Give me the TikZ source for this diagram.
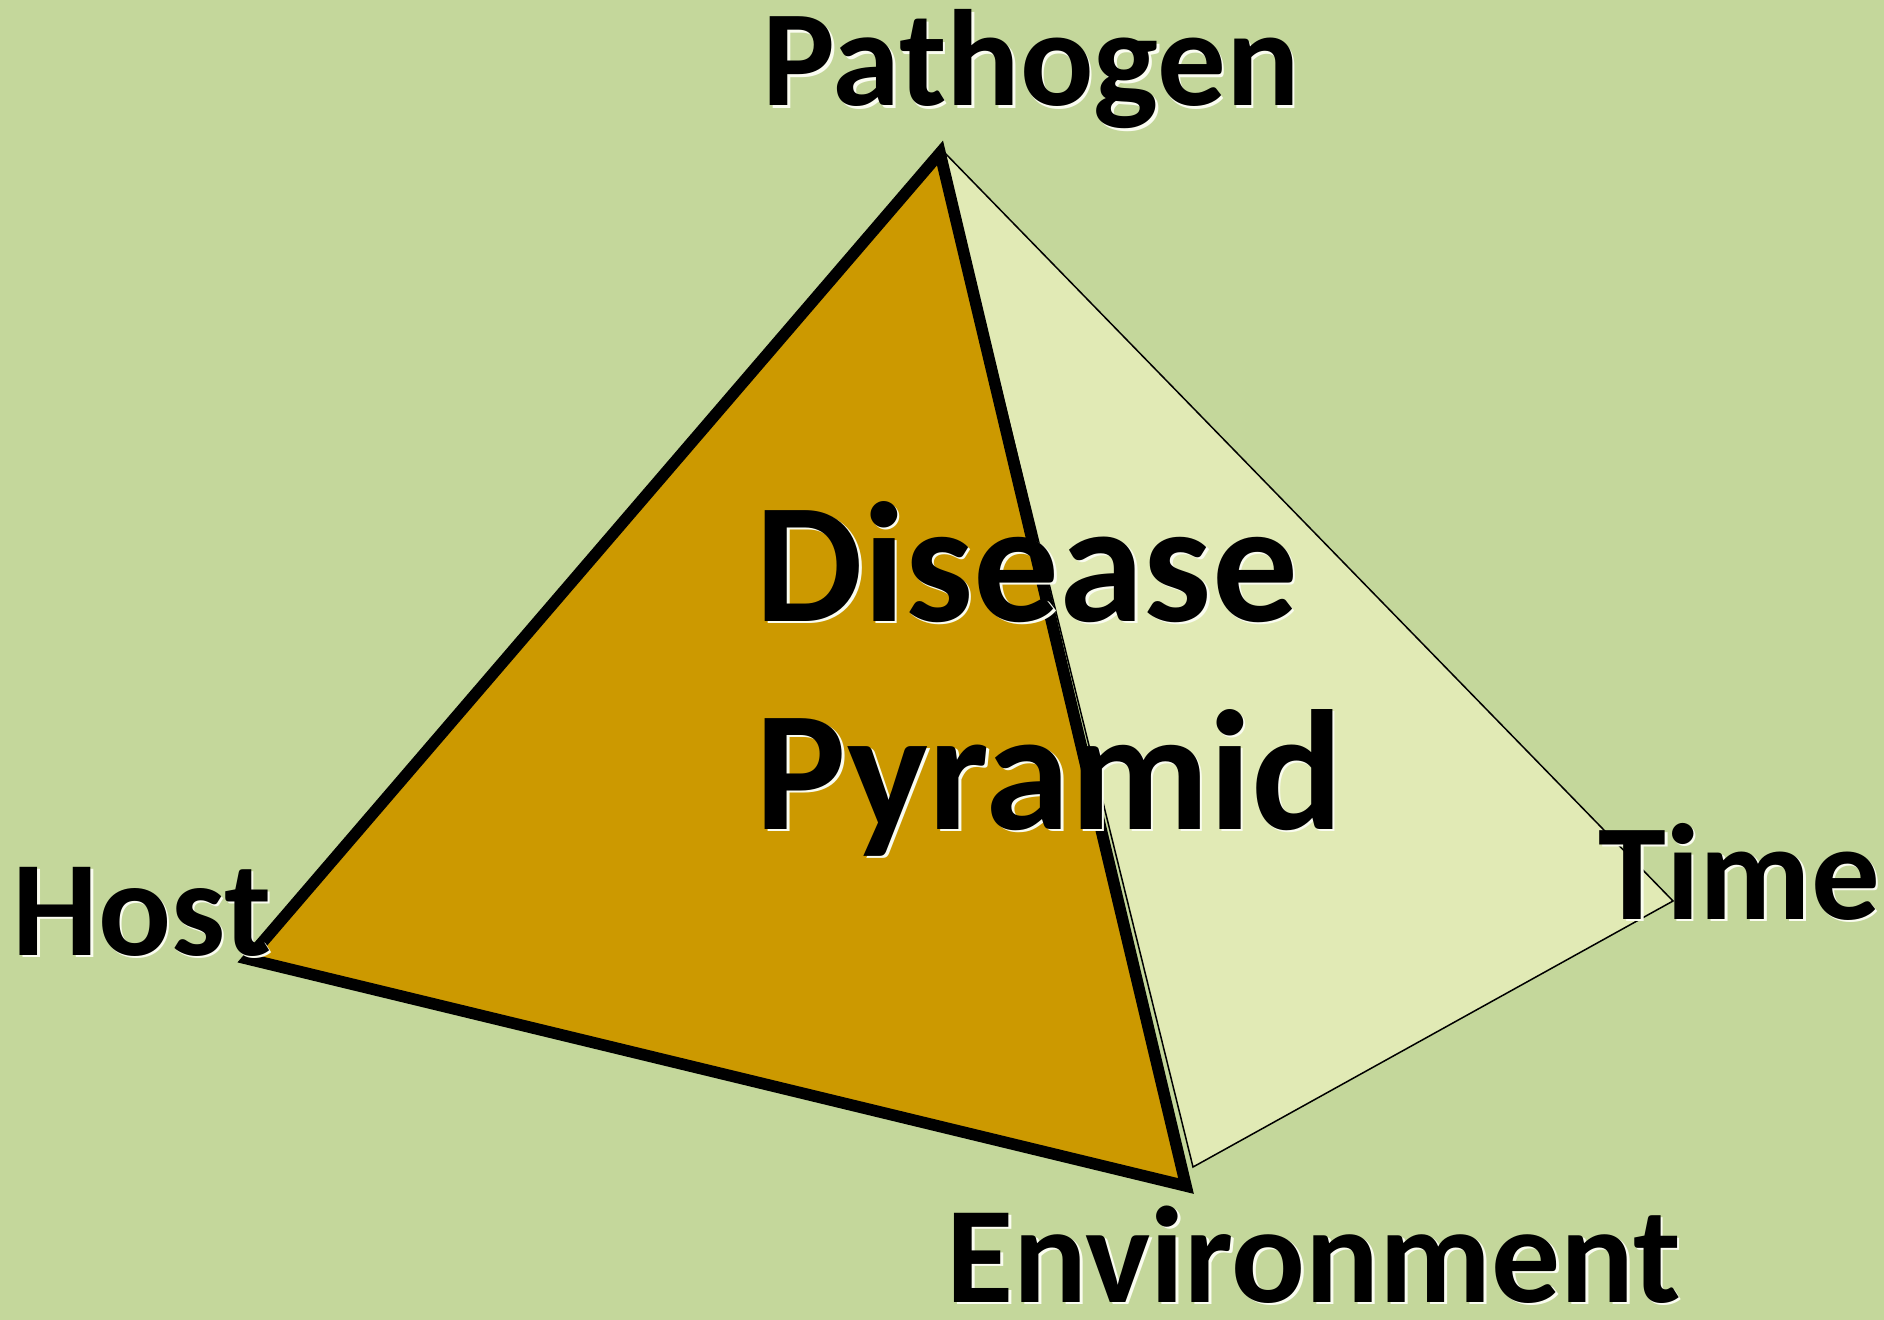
\documentclass[tikz,border=0pt]{standalone}
\usepackage{fontspec}
\setmainfont{Carlito}
\definecolor{bggreen}{HTML}{C4D79B}
\definecolor{frontface}{HTML}{CC9900}
\definecolor{backface}{HTML}{E1EAB5}
\definecolor{glowwhite}{HTML}{FAFCF0}
\newcommand{\glowtext}[1]{\rlap{\kern1.3pt\raisebox{-1.3pt}{\textcolor{glowwhite}{#1}}}#1}
\tikzset{
  lbl/.style={anchor=base west, inner sep=0pt, font=\bfseries, text=black},
  frontedge/.style={draw=black, line width=5.8pt, miter limit=10, line join=miter, fill=frontface},
  backedge/.style={draw=black, line width=0.75pt, line join=miter, fill=backface}
}
\begin{document}
\begin{tikzpicture}[x=0.5pt,y=-0.5pt]
\fill[bggreen] (0,0) rectangle (1884,1320);
\useasboundingbox (0,0) rectangle (1884,1320);
% vertices
\coordinate (apex) at (940,153);
\coordinate (backapex) at (942,150);
\coordinate (host) at (248,959);
\coordinate (env) at (1186,1186);
\coordinate (envback) at (1193,1167);
\coordinate (time) at (1673,901);
% back face
\draw[backedge] (backapex) -- (time) -- (envback) -- cycle;
% front face
\draw[frontedge] (apex) -- (host) -- (env) -- cycle;
% labels
\node[lbl] (pathogen) at (762,106) {\fontsize{68.5}{75}\selectfont\glowtext{Pathogen}};
\node[lbl] (host) at (12,955) {\fontsize{68}{75}\selectfont\glowtext{Host}};
\node[lbl] (timelbl) at (1598,919) {\fontsize{68.5}{75}\selectfont\glowtext{Time}};
\node[lbl] (environment) at (946,1302) {\fontsize{68.8}{75}\selectfont\glowtext{Environment}};
\node[lbl] (disease) at (755,621) {\fontsize{85.5}{94}\selectfont\glowtext{Disease}};
\node[lbl] (pyramid) at (755,829) {\fontsize{85.5}{94}\selectfont\glowtext{Pyramid}};
\end{tikzpicture}
\end{document}
